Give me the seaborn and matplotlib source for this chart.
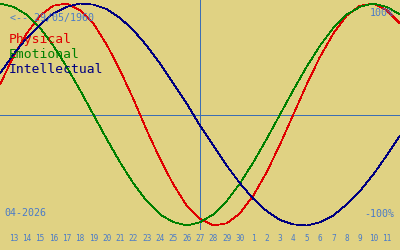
import matplotlib
matplotlib.use("Agg")
import matplotlib.pyplot as plt
import seaborn as sns
import pandas as pd

# ---- data (daily values, 12 Apr 2026 .. 12 May 2026) ----
day_index = list(range(31))
physical = [0.27, 0.52, 0.73, 0.89, 0.98, 1.00, 0.94, 0.82, 0.63, 0.40, 0.14,
            -0.14, -0.40, -0.63, -0.82, -0.94, -1.00, -0.98, -0.89, -0.73, -0.52,
            -0.27, 0.00, 0.27, 0.52, 0.73, 0.89, 0.98, 1.00, 0.94, 0.82]
emotional = [1.00, 0.97, 0.90, 0.78, 0.62, 0.43, 0.22, 0.00, -0.22, -0.43, -0.62,
             -0.78, -0.90, -0.97, -1.00, -0.97, -0.90, -0.78, -0.62, -0.43, -0.22,
             0.00, 0.22, 0.43, 0.62, 0.78, 0.90, 0.97, 1.00, 0.97, 0.90]
intellectual = [0.37, 0.54, 0.69, 0.81, 0.91, 0.97, 1.00, 0.99, 0.95, 0.87, 0.76,
                0.62, 0.46, 0.28, 0.10, -0.10, -0.28, -0.46, -0.62, -0.76, -0.87,
                -0.95, -0.99, -1.00, -0.97, -0.91, -0.81, -0.69, -0.54, -0.37, -0.19]
series_names = ["Physical", "Emotional", "Intellectual"]
series_colors = ["#e00000", "#008000", "#000080"]
tick_positions = list(range(1, 30))
tick_labels = [str(d) for d in range(13, 31)] + [str(d) for d in range(1, 12)]
today_index = 15
birth_label = "<-- 29/05/1960"
month_label = "04-2026"
top_label = "100%"
bottom_label = "-100%"

# ---- figure ----
BG = "#e0d283"
BLUE = "#3c6eb4"
TXT = "#4a7bc8"
MONO = "DejaVu Sans Mono"
LW = 0.7
CURVE_LW = 0.55

sns.set_style("white")
plt.rcParams["font.family"] = [MONO]

df = pd.DataFrame({"day": day_index * 3,
                   "value": physical + emotional + intellectual,
                   "cycle": [series_names[0]] * 31 + [series_names[1]] * 31 + [series_names[2]] * 31})

fig = plt.figure(figsize=(4, 2.5), dpi=100, facecolor=BG)
ax = fig.add_axes([0, 20 / 250, 1, 230 / 250])
ax.set_facecolor(BG)

ax.axhline(0, color=BLUE, lw=LW, antialiased=False, zorder=1)
ax.axvline(today_index, color=BLUE, lw=LW, antialiased=False, zorder=1)

sns.lineplot(data=df, x="day", y="value", hue="cycle", hue_order=series_names,
             palette=series_colors, legend=False, ax=ax, lw=CURVE_LW, zorder=3)
for ln in ax.lines[2:]:
    ln.set_antialiased(False)

ax.set_xlim(0, 30)
ax.set_ylim(-(230 - 114.5) / 111, 114.5 / 111)
for s in ax.spines.values():
    s.set_visible(False)
ax.set_xlabel("")
ax.set_ylabel("")
ax.set_yticks([])
ax.set_xticks(tick_positions)
ax.set_xticklabels(tick_labels, fontsize=5.6, color=TXT, family=MONO)
ax.tick_params(axis="x", direction="in", length=3.6, width=LW, color=BLUE, pad=3.2)

def px(x, y):
    return x / 400, 1 - y / 250

fig.text(*px(10, 21), birth_label, fontsize=7.2, color=TXT, ha="left", va="baseline")
for i, (name, col) in enumerate(zip(series_names, series_colors)):
    fig.text(*px(9, 43 + 15 * i), name, fontsize=9.4, color=col, ha="left", va="baseline")
fig.text(*px(394, 16), top_label, fontsize=7.2, color=TXT, ha="right", va="baseline")
fig.text(*px(394, 217), bottom_label, fontsize=7.2, color=TXT, ha="right", va="baseline")
fig.text(*px(4, 216), month_label, fontsize=7.2, color=TXT, ha="left", va="baseline")

fig.savefig("out.png", dpi=100, facecolor=BG)
